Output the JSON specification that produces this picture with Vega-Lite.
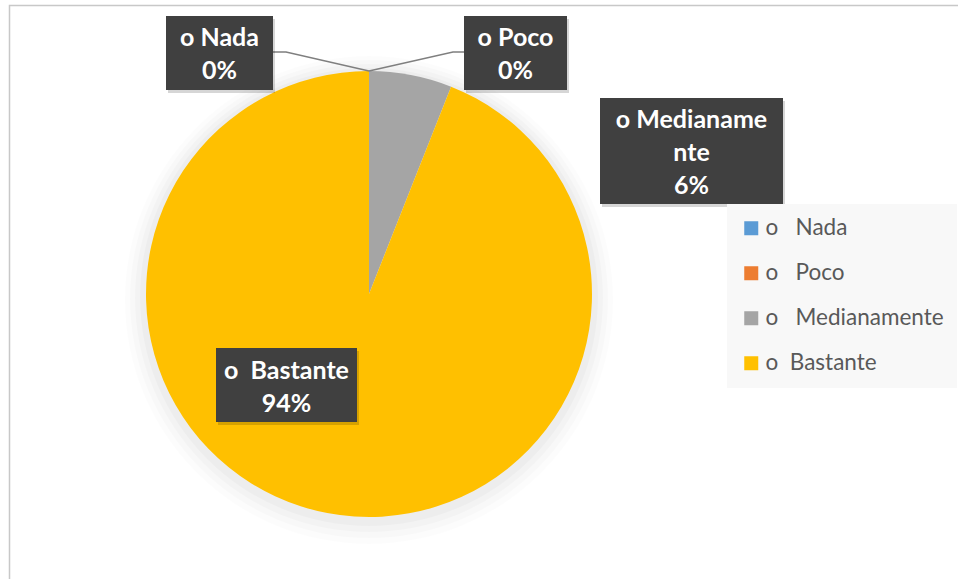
{
  "$schema": "https://vega.github.io/schema/vega-lite/v6.json",
  "width": 446,
  "height": 446,
  "autosize": {"type": "none"},
  "padding": {"left": 146, "top": 71, "right": 366, "bottom": 62},
  "background": "white",
  "config": {
    "view": {"stroke": null},
    "font": "Lato",
    "legend": {
      "orient": "none",
      "legendX": 581,
      "legendY": 133,
      "fillColor": "#f8f8f8",
      "padding": 13,
      "labelFont": "Lato",
      "labelFontSize": 22.5,
      "labelColor": "#595959",
      "labelLimit": 300,
      "symbolType": "square",
      "symbolSize": 196,
      "symbolStrokeWidth": 0,
      "symbolOpacity": 1,
      "rowPadding": 22,
      "labelOffset": 3
    }
  },
  "data": {
    "values": [
      {"category": "Nada", "value": 0},
      {"category": "Poco", "value": 0},
      {"category": "Medianamente", "value": 6},
      {"category": "Bastante", "value": 94}
    ]
  },
  "transform": [
    {"calculate": "indexof(['Nada','Poco','Medianamente','Bastante'], datum.category)", "as": "order"},
    {"calculate": "datum.category == 'Medianamente' ? ['o Medianame', 'nte', format(datum.value/100, '.0%')] : [(datum.category == 'Bastante' ? 'o\u00a0 ' : 'o ') + datum.category, format(datum.value/100, '.0%')]", "as": "label"}
  ],
  "layer": [
    {
      "transform": [{"filter": "datum.category == 'Nada'"}],
      "mark": {"type": "rect", "fill": null, "stroke": "#c8c8c8", "strokeWidth": 1.5},
      "encoding": {
        "x": {"value": -136.5},
        "x2": {"value": 830},
        "y": {"value": -65.5},
        "y2": {"value": 520}
      }
    },
    {
      "transform": [{"filter": "datum.category == 'Nada'"}],
      "mark": {"type": "arc", "theta": 0, "theta2": 6.2832, "outerRadius": 244, "fill": "#000000", "opacity": 0.012, "yOffset": 6}
    },
    {
      "transform": [{"filter": "datum.category == 'Nada'"}],
      "mark": {"type": "arc", "theta": 0, "theta2": 6.2832, "outerRadius": 239, "fill": "#000000", "opacity": 0.015, "yOffset": 5}
    },
    {
      "transform": [{"filter": "datum.category == 'Nada'"}],
      "mark": {"type": "arc", "theta": 0, "theta2": 6.2832, "outerRadius": 234, "fill": "#000000", "opacity": 0.02, "yOffset": 4}
    },
    {
      "transform": [{"filter": "datum.category == 'Nada'"}],
      "mark": {"type": "arc", "theta": 0, "theta2": 6.2832, "outerRadius": 229, "fill": "#000000", "opacity": 0.022, "yOffset": 3}
    },
    {
      "mark": {"type": "arc", "stroke": null},
      "encoding": {
        "theta": {"field": "value", "type": "quantitative", "stack": true},
        "order": {"field": "order", "type": "quantitative"},
        "color": {
          "field": "category",
          "type": "nominal",
          "scale": {
            "domain": ["Nada", "Poco", "Medianamente", "Bastante"],
            "range": ["#5b9bd5", "#ed7d31", "#a5a5a5", "#ffc000"]
          },
          "legend": {
            "title": null,
            "symbolType": "square",
            "labelExpr": "datum.label == 'Bastante' ? 'o\u00a0\u00a0Bastante' : 'o\u00a0\u00a0\u00a0' + datum.label"
          }
        }
      }
    },
    {
      "transform": [{"filter": "datum.category == 'Nada'"}],
      "mark": {"type": "point", "shape": "M-96,-242L-83,-242L0,-223", "size": 4, "filled": false, "fill": null, "stroke": "#7f7f7f", "strokeWidth": 1.3, "opacity": 1}
    },
    {
      "transform": [{"filter": "datum.category == 'Poco'"}],
      "mark": {"type": "point", "shape": "M0,-223L84,-242L95,-242", "size": 4, "filled": false, "fill": null, "stroke": "#7f7f7f", "strokeWidth": 1.3, "opacity": 1}
    },
    {
      "transform": [{"filter": "datum.category == 'Nada'"}],
      "mark": {"type": "point", "shape": "M-201,-275H-94V-201H-201Z", "size": 4, "filled": true, "fill": "#000000", "opacity": 0.16, "strokeWidth": 0}
    },
    {
      "transform": [{"filter": "datum.category == 'Poco'"}],
      "mark": {"type": "point", "shape": "M97,-275H200V-201H97Z", "size": 4, "filled": true, "fill": "#000000", "opacity": 0.16, "strokeWidth": 0}
    },
    {
      "transform": [{"filter": "datum.category == 'Medianamente'"}],
      "mark": {"type": "point", "shape": "M233,-193H416V-87H233Z", "size": 4, "filled": true, "fill": "#000000", "opacity": 0.16, "strokeWidth": 0}
    },
    {
      "transform": [{"filter": "datum.category == 'Bastante'"}],
      "mark": {"type": "point", "shape": "M-151,57H-10V131H-151Z", "size": 4, "filled": true, "fill": "#000000", "opacity": 0.16, "strokeWidth": 0}
    },
    {
      "transform": [{"filter": "datum.category == 'Nada'"}],
      "mark": {"type": "point", "shape": "M-203,-278H-96V-204H-203Z", "size": 4, "filled": true, "fill": "#404040", "opacity": 1, "strokeWidth": 0}
    },
    {
      "transform": [{"filter": "datum.category == 'Poco'"}],
      "mark": {"type": "point", "shape": "M95,-278H198V-204H95Z", "size": 4, "filled": true, "fill": "#404040", "opacity": 1, "strokeWidth": 0}
    },
    {
      "transform": [{"filter": "datum.category == 'Medianamente'"}],
      "mark": {"type": "point", "shape": "M231,-196H414V-90H231Z", "size": 4, "filled": true, "fill": "#404040", "opacity": 1, "strokeWidth": 0}
    },
    {
      "transform": [{"filter": "datum.category == 'Bastante'"}],
      "mark": {"type": "point", "shape": "M-153,54H-12V128H-153Z", "size": 4, "filled": true, "fill": "#404040", "opacity": 1, "strokeWidth": 0}
    },
    {
      "transform": [{"filter": "datum.category == 'Nada'"}],
      "mark": {"type": "text", "fill": "#ffffff", "font": "Lato", "fontWeight": "bold", "fontSize": 25, "align": "center", "baseline": "alphabetic", "lineHeight": 33, "dx": -149.5, "dy": -248},
      "encoding": {"text": {"field": "label"}}
    },
    {
      "transform": [{"filter": "datum.category == 'Poco'"}],
      "mark": {"type": "text", "fill": "#ffffff", "font": "Lato", "fontWeight": "bold", "fontSize": 25, "align": "center", "baseline": "alphabetic", "lineHeight": 33, "dx": 146.5, "dy": -248},
      "encoding": {"text": {"field": "label"}}
    },
    {
      "transform": [{"filter": "datum.category == 'Medianamente'"}],
      "mark": {"type": "text", "fill": "#ffffff", "font": "Lato", "fontWeight": "bold", "fontSize": 25, "align": "center", "baseline": "alphabetic", "lineHeight": 33, "dx": 322.5, "dy": -166},
      "encoding": {"text": {"field": "label"}}
    },
    {
      "transform": [{"filter": "datum.category == 'Bastante'"}],
      "mark": {"type": "text", "fill": "#ffffff", "font": "Lato", "fontWeight": "bold", "fontSize": 25, "align": "center", "baseline": "alphabetic", "lineHeight": 33, "dx": -82.5, "dy": 85},
      "encoding": {"text": {"field": "label"}}
    }
  ]
}
